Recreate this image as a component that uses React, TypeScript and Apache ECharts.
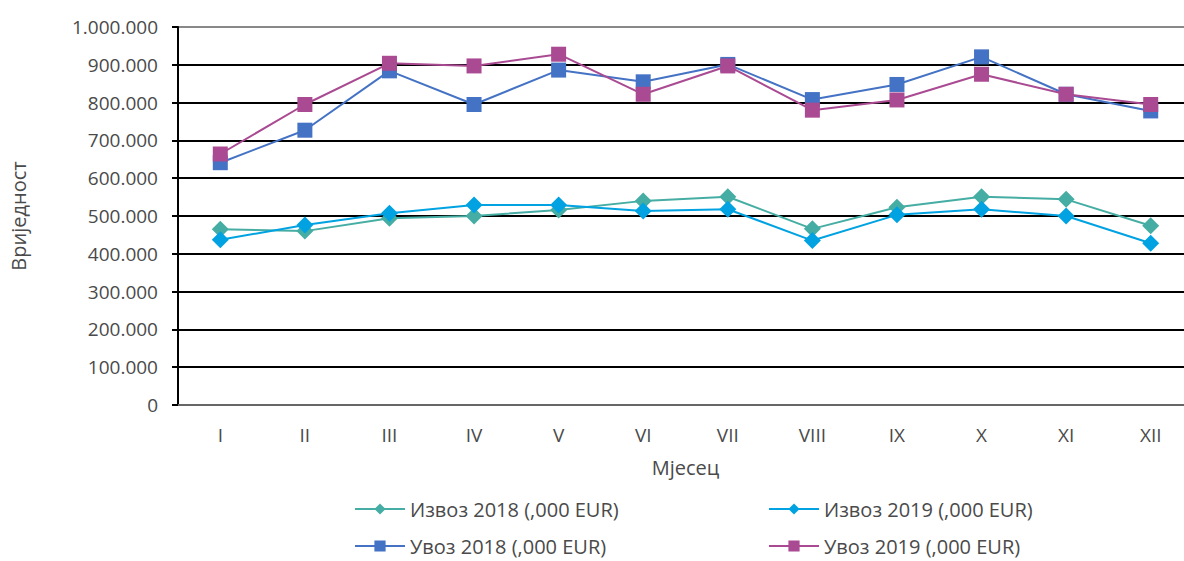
import React, { useEffect, useRef } from "react";
import * as echarts from "echarts";

const months = ["I", "II", "III", "IV", "V", "VI", "VII", "VIII", "IX", "X", "XI", "XII"];
const izvoz2018 = [465000, 460000, 494000, 500000, 516000, 540000, 551000, 466000, 523000, 551000, 544000, 474000];
const izvoz2019 = [437000, 476000, 507000, 529000, 529000, 513000, 518000, 435000, 503000, 518000, 500000, 428000];
const uvoz2018 = [641000, 727000, 884000, 795000, 886000, 855000, 901000, 808000, 848000, 921000, 822000, 778000];
const uvoz2019 = [664000, 795000, 904000, 897000, 928000, 822000, 897000, 780000, 807000, 875000, 822000, 795000];

const names = [
  "Извоз 2018 (,000 EUR)",
  "Извоз 2019 (,000 EUR)",
  "Увоз 2018 (,000 EUR)",
  "Увоз 2019 (,000 EUR)",
];

const FONT = "Open Sans";
const TXT = "#4a4a4a";
const FS = 19;

export default function App() {
  const ref = useRef<HTMLDivElement>(null);
  useEffect(() => {
    document.body.style.margin = "0";
    const chart = echarts.init(ref.current!, null, { renderer: "svg" });
    const fmt = (v: number) => String(Math.round(v)).replace(/\B(?=(\d{3})+(?!\d))/g, ".");
    const legendPos = [
      { left: 354, top: 499 },
      { left: 768, top: 499 },
      { left: 354, top: 536 },
      { left: 768, top: 536 },
    ];
    chart.setOption({
      animation: false,
      textStyle: { fontFamily: FONT },
      grid: { left: 176, right: 0, top: 27, bottom: 156, containLabel: false },
      legend: legendPos.map((p, i) => ({
        data: [names[i]],
        left: p.left,
        top: p.top,
        padding: 0,
        itemWidth: 50,
        itemHeight: 14,
        itemGap: 7,
        textStyle: { fontFamily: FONT, fontSize: 20, color: TXT },
      })),
      xAxis: {
        type: "category",
        data: months,
        boundaryGap: true,
        name: "Мјесец",
        nameLocation: "middle",
        nameGap: 52,
        nameTextStyle: { fontFamily: FONT, fontSize: 20, color: TXT },
        axisLine: { lineStyle: { color: "#666", width: 2 } },
        axisTick: { show: false },
        axisLabel: { fontFamily: FONT, fontSize: FS, color: TXT, margin: 20 },
      },
      yAxis: {
        type: "value",
        min: 0,
        max: 1000000,
        interval: 100000,
        name: "Вриједност",
        nameLocation: "middle",
        nameGap: 150,
        nameRotate: 90,
        nameTextStyle: { fontFamily: FONT, fontSize: 20, color: TXT },
        axisLine: { show: true, lineStyle: { color: "#000", width: 2 } },
        axisTick: { show: true, length: 6, lineStyle: { color: "#000", width: 2 } },
        axisLabel: { fontFamily: FONT, fontSize: FS, color: TXT, margin: 20, formatter: fmt },
        splitLine: {
          lineStyle: {
            color: ["#000", "#000", "#000", "#000", "#000", "#000", "#000", "#000", "#000", "#000", "#888"],
            width: 2,
          },
        },
      },
      series: [
        {
          name: names[0],
          type: "line",
          data: izvoz2018,
          symbol: "diamond",
          symbolSize: 17,
          lineStyle: { color: "#45ADA3", width: 2 },
          itemStyle: { color: "#45ADA3" },
          z: 2,
        },
        {
          name: names[1],
          type: "line",
          data: izvoz2019,
          symbol: "diamond",
          symbolSize: 17,
          lineStyle: { color: "#00A2E1", width: 2 },
          itemStyle: { color: "#00A2E1" },
          z: 3,
        },
        {
          name: names[2],
          type: "line",
          data: uvoz2018,
          symbol: "rect",
          symbolSize: 15,
          lineStyle: { color: "#4472C4", width: 2 },
          itemStyle: { color: "#4472C4" },
          z: 4,
        },
        {
          name: names[3],
          type: "line",
          data: uvoz2019,
          symbol: "rect",
          symbolSize: 15,
          lineStyle: { color: "#AA4A92", width: 2 },
          itemStyle: { color: "#AA4A92" },
          z: 5,
        },
      ],
    });
    return () => chart.dispose();
  }, []);
  return (
    <div style={{ position: "absolute", left: 0, top: 0, width: 1184, height: 561, overflow: "hidden" }}>
      <div ref={ref} style={{ position: "absolute", left: 0, top: 0, width: 1193, height: 561 }} />
    </div>
  );
}
